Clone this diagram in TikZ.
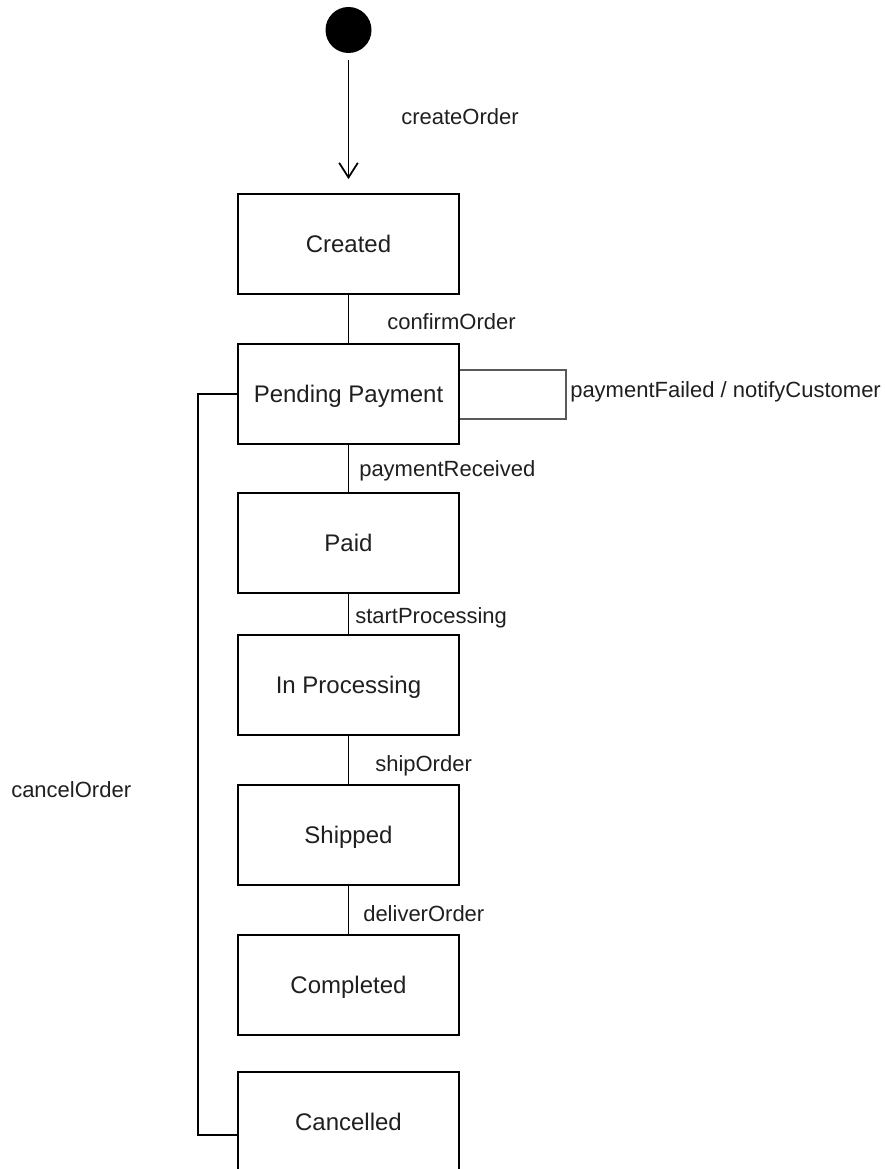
\documentclass[tikz,border=0pt]{standalone}
\usepackage{fontspec}
\setmainfont{Liberation Sans}
\usetikzlibrary{arrows.meta,calc}
\begin{document}
\begin{tikzpicture}[x=0.75pt,y=-0.75pt,
  state/.style={draw=black, line width=1.3pt, minimum width=165.75pt, minimum height=75pt,
    inner sep=0pt, font=\fontsize{18pt}{20pt}\selectfont, text=black!88,
    text height=0.716em, text depth=0pt},
  statetext/.style={inner sep=0pt, font=\fontsize{18pt}{20pt}\selectfont, text=black!88,
    text height=0.716em, text depth=0pt, yshift=-2.5pt},
  trans/.style={anchor=west, inner sep=0pt, font=\fontsize{16.5pt}{18pt}\selectfont,
    text=black!88, text height=0.716em, text depth=0pt, yshift=-2.5pt},
  flow/.style={line width=1.3pt, draw=black},
  selfloop/.style={line width=1.8pt, draw=black!65}]
\useasboundingbox (0,0) rectangle (884,1169);

% initial pseudo-state
\node[circle, fill=black, minimum size=34.5pt, inner sep=0pt] (init) at (348.5,30) {};

% states
\node[state] (created)    at (348.5,244)  {};
\node[state] (pending)    at (348.5,394)  {};
\node[state] (paid)       at (348.5,543)  {};
\node[state] (processing) at (348.5,685)  {};
\node[state] (shipped)    at (348.5,835)  {};
\node[state] (completed)  at (348.5,985)  {};
\node[state] (cancelled)  at (348.5,1122) {};

% state names
\node[statetext] (tcreated)    at (created)    {Created};
\node[statetext] (tpending)    at (pending)    {Pending Payment};
\node[statetext] (tpaid)       at (paid)       {Paid};
\node[statetext] (tprocessing) at (processing) {In Processing};
\node[statetext] (tshipped)    at (shipped)    {Shipped};
\node[statetext] (tcompleted)  at (completed)  {Completed};
\node[statetext] (tcancelled)  at (cancelled)  {Cancelled};

% transitions
\draw[flow, -{Straight Barb[length=11pt, width=14pt, line width=1.3pt]},
  shorten <=5pt, shorten >=10.5pt] (init) -- (created);
\draw[flow] (created) -- (pending);
\draw[flow] (pending) -- (paid);
\draw[flow] (paid) -- (processing);
\draw[flow] (processing) -- (shipped);
\draw[flow] (shipped) -- (completed);

% self transition on Pending Payment
\draw[selfloop] ([yshift=18pt]pending.east) -- ++(106,0) coordinate (loopa)
  -- ++(0,49) coordinate (loopb) -- ([yshift=-18.75pt]pending.east);

% cancel path
\coordinate (cancelx) at (198,394);
\draw[flow] (pending.west) -- (cancelx) |- ([yshift=-9.75pt]cancelled.west);

% transition labels
\node[trans] (lcreate)   at (401,116) {createOrder};
\node[trans] (lconfirm)  at (387,321) {confirmOrder};
\node[trans] (lfailed)   at (570,389) {paymentFailed / notifyCustomer};
\node[trans] (lreceived) at (359,468) {paymentReceived};
\node[trans] (lstart)    at (355,615) {startProcessing};
\node[trans] (lship)     at (375,763) {shipOrder};
\node[trans] (ldeliver)  at (363,913) {deliverOrder};
\node[trans] (lcancel)   at (11,789)  {cancelOrder};
\end{tikzpicture}
\end{document}
